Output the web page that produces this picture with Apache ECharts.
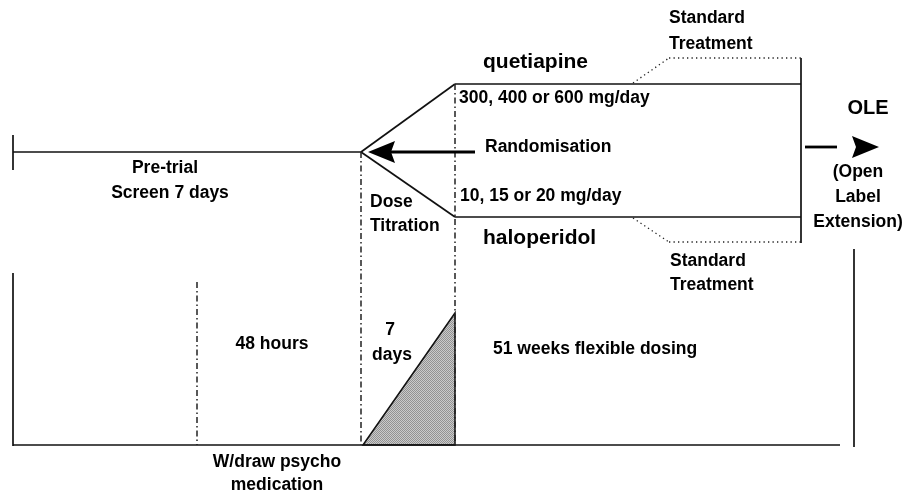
<!DOCTYPE html>
<html>
<head>
<meta charset="utf-8">
<script src="https://cdn.jsdelivr.net/npm/echarts@6/dist/echarts.min.js"></script>
<style>
html,body{margin:0;padding:0;background:#fff;}
#chart{width:905px;height:493px;}
</style>
</head>
<body>
<div id="chart"></div>
<script>
// Diagram coordinates (x: timeline position, y: vertical position, both in diagram units)
const solidSegments = [
  [13, 135, 13, 170],     // pre-trial start tick
  [13, 152, 361, 152],    // pre-trial screen
  [361, 152, 455, 84],    // branch to quetiapine
  [361, 152, 455, 217],   // branch to haloperidol
  [455, 84, 801, 84],     // quetiapine arm
  [455, 217, 801, 217],   // haloperidol arm
  [801, 58, 801, 243],    // end of study
  [13, 273, 13, 446],     // dosing panel left edge
  [13, 445, 840, 445],    // dosing panel baseline
  [854, 249, 854, 447]    // dosing panel right edge
];
const dottedSegments = [
  [633, 83, 669, 58],
  [669, 58, 801, 58],
  [633, 218, 669, 242],
  [669, 242, 801, 242]
];
const dashDotSegments = [
  [361, 152, 361, 445],   // randomisation
  [455, 84, 455, 445],    // end of titration
  [197, 282, 197, 445]    // withdraw psycho medication
];
const arrowShafts = [
  [391, 152, 475, 152],   // randomisation arrow
  [805, 147, 837, 147]    // OLE arrow
];
const arrowHeads = [
  // tipX, tipY, direction (-1 left, 1 right)
  [368, 152, -1],
  [879, 147, 1]
];
const titrationRamp = [[363, 445], [455, 313], [455, 445]];

const labels = [
  // x, y, text, anchor, kind
  [669, 18, 'Standard', 'left', 'n'],
  [669, 44, 'Treatment', 'left', 'n'],
  [483, 62, 'quetiapine', 'left', 'big'],
  [459, 98, '300, 400 or 600 mg/day', 'left', 'n'],
  [868, 108, 'OLE', 'center', 'ole'],
  [485, 147, 'Randomisation', 'left', 'n'],
  [165, 168, 'Pre-trial', 'center', 'n'],
  [170, 193, 'Screen 7 days', 'center', 'n'],
  [858, 172, '(Open', 'center', 'n'],
  [858, 197, 'Label', 'center', 'n'],
  [858, 222, 'Extension)', 'center', 'n'],
  [370, 202, 'Dose', 'left', 'n'],
  [370, 226, 'Titration', 'left', 'n'],
  [460, 196, '10, 15 or 20 mg/day', 'left', 'n'],
  [483, 238, 'haloperidol', 'left', 'big'],
  [670, 261, 'Standard', 'left', 'n'],
  [670, 285, 'Treatment', 'left', 'n'],
  [272, 344, '48 hours', 'center', 'n'],
  [390, 330, '7', 'center', 'n'],
  [392, 355, 'days', 'center', 'n'],
  [493, 349, '51 weeks flexible dosing', 'left', 'n'],
  [277, 462, 'W/draw psycho', 'center', 'n'],
  [277, 485, 'medication', 'center', 'n']
];

const FONT = '"Liberation Sans", Arial, Helvetica, sans-serif';
const fontSizes = { n: 17.5, big: 21, ole: 20 };

function makeStipple() {
  const c = document.createElement('canvas');
  c.width = 2; c.height = 2;
  const g = c.getContext('2d');
  g.fillStyle = '#cacaca'; g.fillRect(0, 0, 2, 2);
  g.fillStyle = '#929292';
  g.fillRect(0, 0, 1, 1); g.fillRect(1, 1, 1, 1);
  return c;
}
const stipple = makeStipple();

function segSeries(segs, style) {
  return {
    type: 'custom', coordinateSystem: 'cartesian2d', clip: false, silent: true,
    data: segs.map(s => [s[0], s[1], s[2], s[3]]),
    renderItem: function (params, api) {
      const a = api.coord([api.value(0), api.value(1)]);
      const b = api.coord([api.value(2), api.value(3)]);
      return { type: 'line', shape: { x1: a[0], y1: a[1], x2: b[0], y2: b[1] }, style: Object.assign({ fill: null }, style) };
    }
  };
}

const chart = echarts.init(document.getElementById('chart'), null, { renderer: 'canvas' });
chart.setOption({
  animation: false,
  backgroundColor: '#ffffff',
  grid: { left: 0, right: 0, top: 0, bottom: 0 },
  xAxis: { type: 'value', min: 0, max: 905, show: false },
  yAxis: { type: 'value', min: 0, max: 493, inverse: true, show: false },
  series: [
    {
      type: 'custom', coordinateSystem: 'cartesian2d', clip: false, silent: true,
      data: [0],
      renderItem: function (params, api) {
        const pts = titrationRamp.map(p => api.coord(p));
        return { type: 'polygon', shape: { points: pts }, style: { fill: { image: stipple, repeat: 'repeat' }, stroke: '#111', lineWidth: 1.5 } };
      }
    },
    segSeries(solidSegments, { stroke: '#111', lineWidth: 1.7 }),
    segSeries(dottedSegments, { stroke: '#222', lineWidth: 1.3, lineDash: [1.3, 3.2] }),
    segSeries(dashDotSegments, { stroke: '#222', lineWidth: 1.5, lineDash: [6, 3, 1.5, 3] }),
    segSeries(arrowShafts, { stroke: '#000', lineWidth: 2.8 }),
    {
      type: 'custom', coordinateSystem: 'cartesian2d', clip: false, silent: true,
      data: arrowHeads.map(a => [a[0], a[1], a[2]]),
      renderItem: function (params, api) {
        const t = api.coord([api.value(0), api.value(1)]);
        const d = api.value(2);
        const L = 27, hw = 11, notch = 4;
        const pts = [
          [t[0], t[1]],
          [t[0] - d * L, t[1] - hw],
          [t[0] - d * (L - notch), t[1]],
          [t[0] - d * L, t[1] + hw]
        ];
        return { type: 'polygon', shape: { points: pts }, style: { fill: '#000' } };
      }
    },
    {
      type: 'custom', coordinateSystem: 'cartesian2d', clip: false, silent: true,
      data: labels.map(l => [l[0], l[1]]),
      renderItem: function (params, api) {
        const l = labels[params.dataIndex];
        const p = api.coord([api.value(0), api.value(1)]);
        return {
          type: 'text', x: p[0], y: p[1],
          style: {
            text: l[2], fill: '#000', fontFamily: FONT, fontWeight: 'bold',
            fontSize: fontSizes[l[4]], align: l[3], verticalAlign: 'middle'
          }
        };
      }
    }
  ]
});
</script>
</body>
</html>
